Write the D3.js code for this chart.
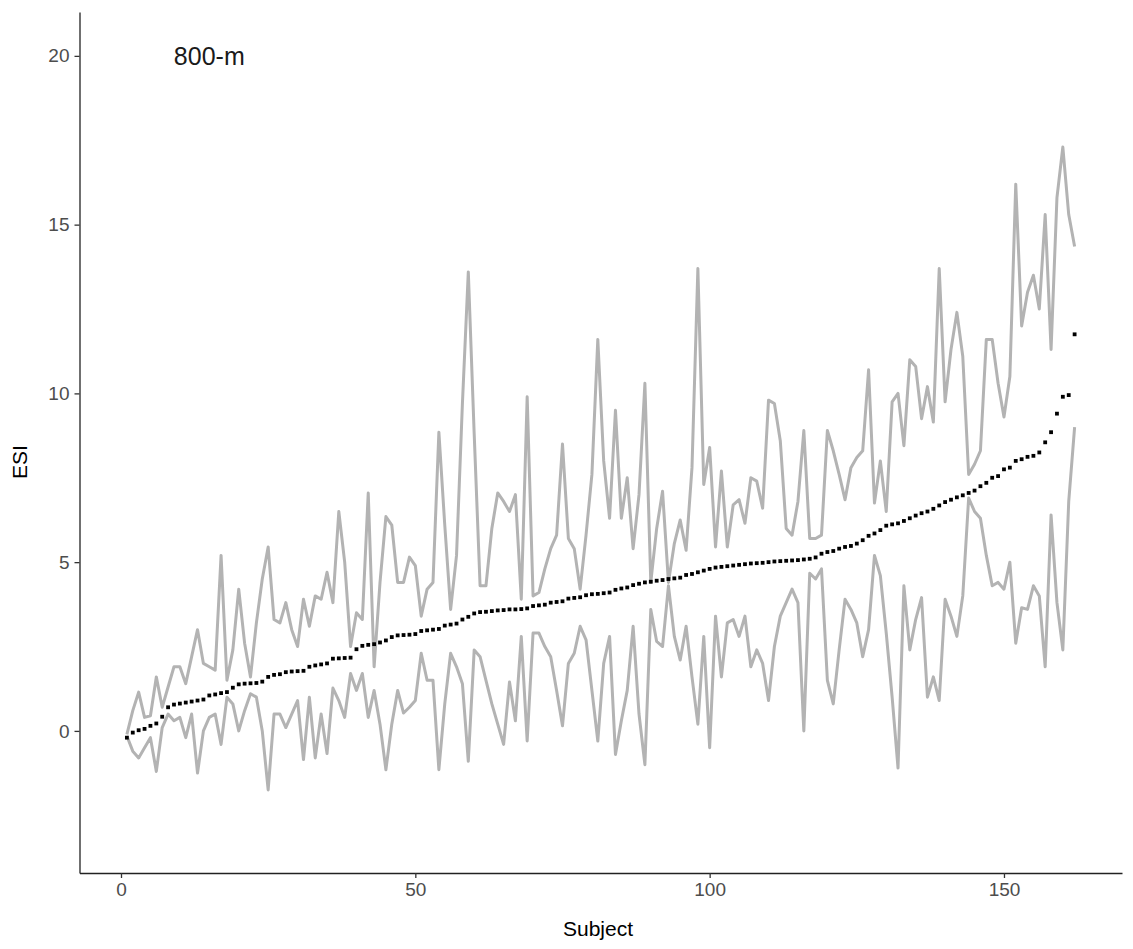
<!DOCTYPE html>
<html>
<head>
<meta charset="utf-8">
<script src="https://cdn.jsdelivr.net/npm/d3@7"></script>
<style>
  html, body { margin: 0; padding: 0; background: #ffffff; }
  svg { display: block; }
</style>
</head>
<body>
<svg id="chart" width="1133" height="949"></svg>
<script>
// ---- data ----
const meanESI = [
  -0.20,-0.05,0.02,0.06,0.15,0.22,0.42,0.70,0.78,0.81,
  0.84,0.87,0.90,0.93,1.05,1.08,1.12,1.15,1.28,1.38,
  1.40,1.41,1.42,1.46,1.60,1.66,1.68,1.74,1.76,1.77,
  1.78,1.90,1.94,1.97,2.00,2.14,2.15,2.16,2.17,2.42,
  2.52,2.55,2.57,2.62,2.68,2.78,2.83,2.84,2.85,2.87,
  2.96,2.98,3.00,3.02,3.12,3.15,3.18,3.30,3.38,3.48,
  3.52,3.53,3.55,3.57,3.58,3.60,3.60,3.61,3.63,3.70,
  3.72,3.74,3.80,3.82,3.84,3.92,3.94,3.96,4.02,4.05,
  4.06,4.08,4.10,4.18,4.22,4.25,4.32,4.36,4.40,4.42,
  4.45,4.47,4.50,4.52,4.54,4.62,4.65,4.70,4.75,4.80,
  4.84,4.86,4.88,4.90,4.92,4.94,4.96,4.97,4.98,5.00,
  5.02,5.03,5.04,5.05,5.06,5.08,5.10,5.14,5.25,5.30,
  5.33,5.40,5.45,5.48,5.55,5.65,5.78,5.85,5.95,6.08,
  6.12,6.15,6.22,6.30,6.38,6.45,6.50,6.58,6.68,6.78,
  6.85,6.92,6.98,7.05,7.12,7.25,7.35,7.50,7.55,7.75,
  7.80,8.00,8.05,8.12,8.15,8.25,8.55,8.85,9.40,9.90,
  9.95,11.75
];
const upperESI = [
  -0.1,0.6,1.15,0.4,0.45,1.6,0.7,1.3,1.9,1.9,
  1.4,2.2,3.0,2.0,1.9,1.8,5.2,1.5,2.4,4.2,
  2.6,1.6,3.2,4.5,5.45,3.3,3.2,3.8,3.0,2.5,
  3.9,3.1,4.0,3.9,4.7,3.8,6.5,5.0,2.5,3.5,
  3.3,7.05,1.9,4.4,6.35,6.1,4.4,4.4,5.15,4.9,
  3.4,4.2,4.4,8.85,6.1,3.6,5.2,9.7,13.6,8.8,
  4.3,4.3,6.0,7.05,6.8,6.5,7.0,3.9,9.9,4.0,
  4.1,4.8,5.4,5.8,8.5,5.7,5.4,4.2,5.8,7.6,
  11.6,8.0,6.3,9.5,6.3,7.5,5.4,7.0,10.3,4.4,
  6.0,7.1,4.4,5.55,6.25,5.35,7.8,13.7,7.3,8.4,
  5.45,7.7,5.45,6.7,6.85,6.15,7.5,7.4,6.6,9.8,
  9.7,8.6,6.0,5.8,6.8,8.9,5.7,5.7,5.8,8.9,
  8.3,7.6,6.85,7.8,8.1,8.3,10.7,6.75,8.0,6.5,
  9.75,10.0,8.45,11.0,10.8,9.25,10.2,9.15,13.7,9.75,
  11.3,12.4,11.1,7.6,7.9,8.3,11.6,11.6,10.3,9.3,
  10.5,16.2,12.0,13.0,13.5,12.5,15.3,11.3,15.8,17.3,
  15.3,14.35
];
const lowerESI = [
  -0.15,-0.6,-0.8,-0.5,-0.2,-1.2,0.1,0.5,0.3,0.4,
  -0.2,0.5,-1.25,0.0,0.4,0.5,-0.4,1.0,0.8,0.0,
  0.6,1.1,1.0,0.0,-1.75,0.5,0.5,0.1,0.5,0.9,
  -0.85,1.0,-0.8,0.5,-0.67,1.27,0.9,0.4,1.7,1.2,
  1.7,0.4,1.2,0.2,-1.15,0.2,1.2,0.53,0.7,0.9,
  2.3,1.5,1.5,-1.15,0.8,2.3,1.9,1.4,-0.9,2.4,
  2.2,1.5,0.8,0.2,-0.4,1.45,0.3,2.8,-0.3,2.9,
  2.9,2.5,2.2,1.2,0.15,2.0,2.3,3.1,2.7,1.2,
  -0.3,2.0,2.8,-0.7,0.3,1.2,3.1,0.5,-1.0,3.6,
  2.65,2.5,4.3,2.8,2.1,3.1,1.6,0.2,2.8,-0.5,
  3.4,1.6,3.2,3.3,2.8,3.4,1.9,2.4,2.0,0.9,
  2.5,3.4,3.8,4.2,3.8,0.0,4.67,4.5,4.8,1.5,
  0.8,2.4,3.9,3.6,3.2,2.2,3.0,5.2,4.6,2.9,
  1.0,-1.1,4.3,2.4,3.3,3.95,1.0,1.6,0.9,3.9,
  3.4,2.8,4.0,6.9,6.5,6.3,5.2,4.3,4.4,4.2,
  5.0,2.6,3.65,3.6,4.3,4.0,1.9,6.4,3.8,2.4,
  6.8,9.0
];
const subjects = meanESI.map((d, i) => i + 1);
const xTicks = [0, 50, 100, 150];
const yTicks = [0, 5, 10, 15, 20];
const panelLabel = "800-m";
const labelPos = [15, 20];

// ---- drawing ----
const FONT = "Liberation Sans, Arial, sans-serif";
const svg = d3.select("#chart");
const x = d3.scaleLinear().domain([-7.05, 170.05]).range([79.5, 1122]);
const y = d3.scaleLinear().domain([-4.21, 21.3]).range([873, 12]);

const grey = "#b3b3b3";
const lineGen = d3.line().x((d, i) => x(subjects[i])).y(d => y(d));

[upperESI, lowerESI].forEach(series => {
  svg.append("path").datum(series)
    .attr("fill", "none").attr("stroke", grey).attr("stroke-width", 3)
    .attr("stroke-linejoin", "round").attr("d", lineGen);
});

svg.append("g").selectAll("rect").data(meanESI).join("rect")
  .attr("x", (d, i) => x(subjects[i]) - 1.9)
  .attr("y", d => y(d) - 1.9)
  .attr("width", 3.8).attr("height", 3.8)
  .attr("fill", "#000");

// axes
const xAxis = svg.append("g").attr("transform", "translate(0,873)")
  .call(d3.axisBottom(x).tickValues(xTicks).tickSize(5).tickPadding(5).tickSizeOuter(0));
const yAxis = svg.append("g").attr("transform", "translate(79.5,0)")
  .call(d3.axisLeft(y).tickValues(yTicks).tickSize(5).tickPadding(5).tickSizeOuter(0));
[xAxis, yAxis].forEach(g => {
  g.select(".domain").attr("stroke", "#222").attr("stroke-width", 1.3);
  g.selectAll(".tick line").attr("stroke", "#333").attr("stroke-width", 1.3);
  g.selectAll(".tick text").attr("fill", "#4d4d4d")
    .style("font-family", FONT).style("font-size", "19px");
});

svg.append("text").attr("x", 598).attr("y", 936)
  .attr("text-anchor", "middle")
  .style("font-family", FONT).style("font-size", "21px")
  .attr("fill", "#000").text("Subject");
svg.append("text").attr("transform", "translate(27,462) rotate(-90)")
  .attr("text-anchor", "middle")
  .style("font-family", FONT).style("font-size", "21px")
  .attr("fill", "#000").text("ESI");

svg.append("text").attr("x", x(labelPos[0])).attr("y", y(labelPos[1]))
  .attr("text-anchor", "middle").attr("dominant-baseline", "central")
  .style("font-family", FONT).style("font-size", "25px")
  .attr("fill", "#1a1a1a").text(panelLabel);
</script>
</body>
</html>
